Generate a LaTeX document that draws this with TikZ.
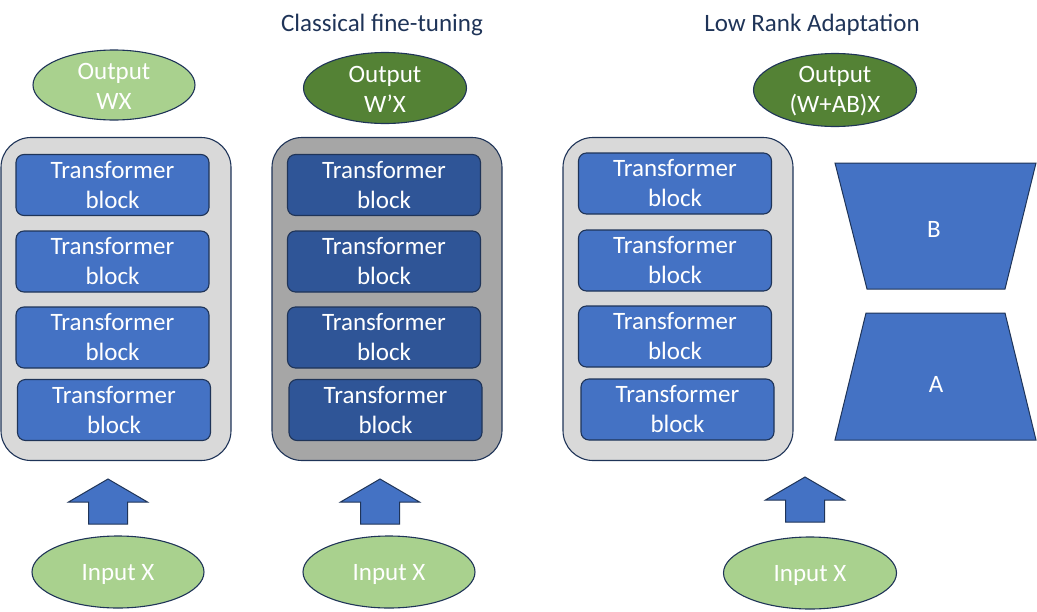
\documentclass[tikz,border=0pt]{standalone}
\usepackage{fontspec}
\setmainfont{Carlito}
\usepackage{xcolor}
\usepackage{tikz}
\usetikzlibrary{shapes.geometric,positioning}
\definecolor{lgreen}{HTML}{A9D18E}
\definecolor{dgreen}{HTML}{548235}
\definecolor{blkblue}{HTML}{4472C4}
\definecolor{blkdark}{HTML}{2F5597}
\definecolor{lgray}{HTML}{D9D9D9}
\definecolor{mgray}{HTML}{A6A6A6}
\definecolor{navy}{HTML}{1F3458}
\newcommand{\bigfont}{\fontsize{25}{30}\selectfont}
\newcommand{\titlefont}{\fontsize{25}{30}\selectfont}
\newcommand{\tblock}{Transformer\\block}

\begin{document}
\begin{tikzpicture}[x=1pt,y=-1pt,
  ell/.style={ellipse,draw=navy,line width=1.1pt,inner sep=0pt},
  stack/.style={rectangle,rounded corners=30pt,draw=navy,line width=1.1pt,minimum width=230pt,minimum height=323pt},
  blk/.style={rectangle,rounded corners=8pt,draw=navy,line width=1.1pt,fill=blkblue,minimum width=193pt,minimum height=61pt,inner sep=0pt,text=white,align=center,font=\bigfont},
  wtxt/.style={text=white,align=center,font=\bigfont},
  fat/.style={draw=navy,line width=1pt,fill=blkblue},
  trap/.style={draw=navy,line width=1pt,fill=blkblue}]

  \useasboundingbox (0,0) rectangle (1037,611);

  % titles
  \node[text=navy,font=\titlefont] at (382,25) (t2) {Classical fine-tuning};
  \node[text=navy,font=\titlefont] at (812,25) (t3) {Low Rank Adaptation};

  % outputs
  \node[ell,fill=lgreen,minimum width=162pt,minimum height=70pt] at (114,85) (out1) {};
  \node[wtxt] at (114,86) {Output\\WX};
  \node[ell,fill=dgreen,minimum width=163pt,minimum height=71pt] at (385,88) (out2) {};
  \node[wtxt] at (385,89) {Output\\W’X};
  \node[ell,fill=dgreen,minimum width=163pt,minimum height=73pt] at (835,90) (out3) {};
  \node[wtxt] at (835,91) {Output\\(W+AB)X};

  % stacks
  \node[stack,fill=lgray] at (116,299) (s1) {};
  \node[stack,fill=mgray] at (387,299) (s2) {};
  \node[stack,fill=lgray] at (678,299) (s3) {};

  \node[blk] at (112.5,185) (b11) {\tblock};
  \node[blk] at (112.5,261.5) (b12) {\tblock};
  \node[blk] at (112.5,337.5) (b13) {\tblock};
  \node[blk] at (114,410) (b14) {\tblock};

  \node[blk,fill=blkdark] at (384,185) (b21) {\tblock};
  \node[blk,fill=blkdark] at (384,261.5) (b22) {\tblock};
  \node[blk,fill=blkdark] at (384,337.5) (b23) {\tblock};
  \node[blk,fill=blkdark] at (385.5,410) (b24) {\tblock};

  \node[blk] at (675,183.5) (b31) {\tblock};
  \node[blk] at (675,260.5) (b32) {\tblock};
  \node[blk] at (675,336.5) (b33) {\tblock};
  \node[blk] at (677.5,409.5) (b34) {\tblock};

  % low rank matrices
  \draw[trap] (835,163) -- (1036,163) -- (1005,289) -- (867,289) -- cycle;
  \node[text=white,font=\bigfont] at (934,229) (mB) {B};
  \draw[trap] (866,313) -- (1005,313) -- (1036,440) -- (835,440) -- cycle;
  \node[text=white,font=\bigfont] at (936,384) (mA) {A};

  % up arrows
  \foreach \ax/\ay in {108/479, 380/479, 805/477}
    \draw[fat,shift={(\ax,\ay)}] (0,0) -- (39.5,23) -- (19.5,23) -- (19.5,45) -- (-19.5,45) -- (-19.5,23) -- (-39.5,23) -- cycle;

  % inputs
  \node[ell,fill=lgreen,minimum width=172pt,minimum height=72pt] at (118,572) (in1) {};
  \node[wtxt] at (118,574) {Input X};
  \node[ell,fill=lgreen,minimum width=172pt,minimum height=72pt] at (389,572) (in2) {};
  \node[wtxt] at (389,574) {Input X};
  \node[ell,fill=lgreen,minimum width=173pt,minimum height=72pt] at (810,573) (in3) {};
  \node[wtxt] at (810,575) {Input X};

\end{tikzpicture}
\end{document}
